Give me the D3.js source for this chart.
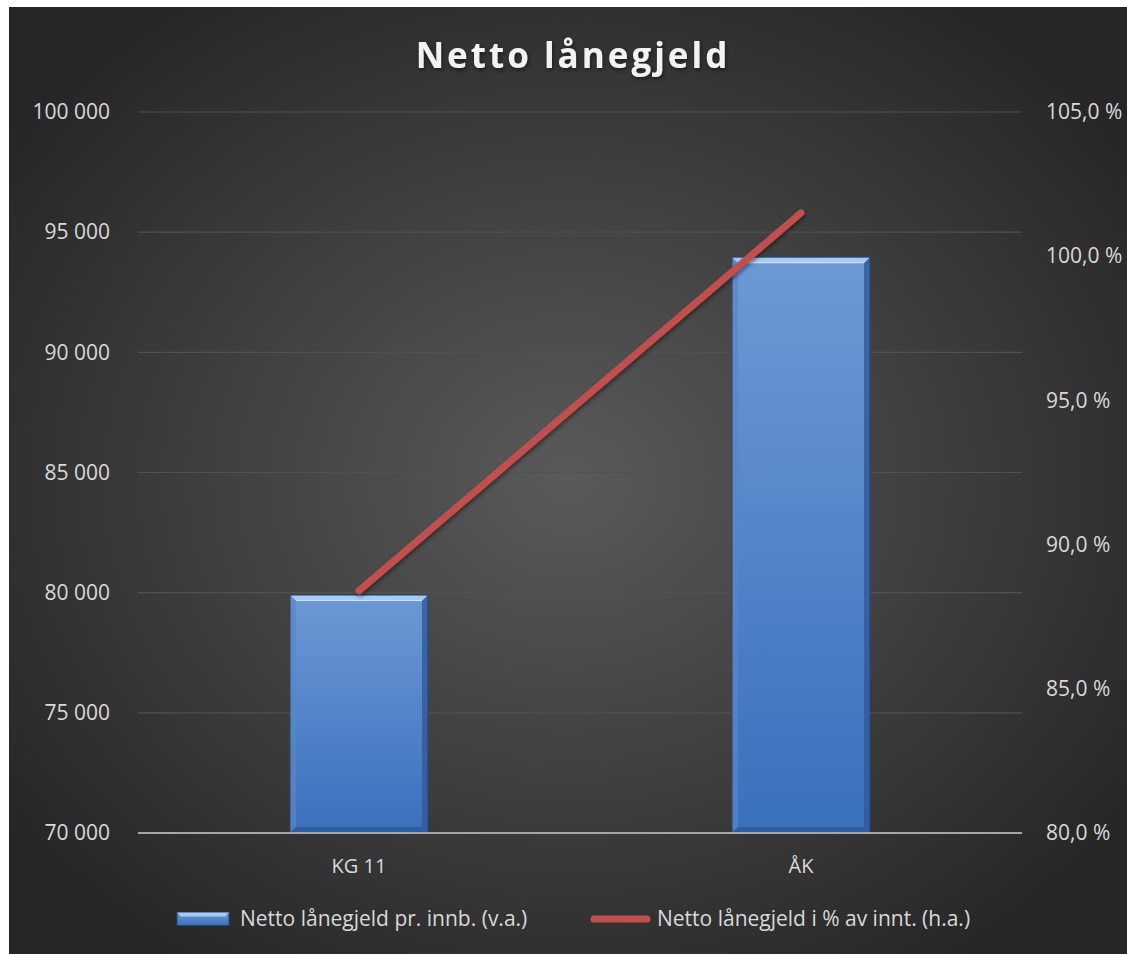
<!DOCTYPE html>
<html>
<head>
<meta charset="utf-8">
<script src="https://cdn.jsdelivr.net/npm/d3@7"></script>
<style>
  html, body { margin: 0; padding: 0; background: #fff; }
  svg { display: block; }
  text { font-family: "Open Sans", "Noto Sans", sans-serif; }
</style>
</head>
<body>
<svg class="chart"></svg>
<script>
// data
const categories = ['KG 11', 'ÅK'];
const perInhabitant = [79900, 93960];      // bars, left axis
const percentOfIncome = [88.4, 101.5];     // line, right axis
const leftTicks = [70000, 75000, 80000, 85000, 90000, 95000, 100000];
const rightTicks = [80, 85, 90, 95, 100, 105];
const seriesNames = ['Netto lånegjeld pr. innb. (v.a.)', 'Netto lånegjeld i % av innt. (h.a.)'];

const W = 1127, H = 954;
const box = {x: 9, y: 7, w: W - 9, h: H - 7};
const margin = {top: 112, right: 105, bottom: 121, left: 138};
const plotW = W - margin.left - margin.right;
const plotH = H - margin.top - margin.bottom;

const svg = d3.select('.chart').attr('width', W).attr('height', H);
const defs = svg.append('defs');

const bg = defs.append('radialGradient').attr('id', 'bg')
  .attr('cx', '50%').attr('cy', '50%').attr('r', '62%');
bg.append('stop').attr('offset', '0%').attr('stop-color', '#5a5a5a');
bg.append('stop').attr('offset', '100%').attr('stop-color', '#262626');

const barGrad = defs.append('linearGradient').attr('id', 'barGrad')
  .attr('x1', 0).attr('y1', 0).attr('x2', 0).attr('y2', 1);
barGrad.append('stop').attr('offset', '0%').attr('stop-color', '#6d98d5');
barGrad.append('stop').attr('offset', '100%').attr('stop-color', '#3b70bd');

const shadow = defs.append('filter').attr('id', 'shadow')
  .attr('x', '-20%').attr('y', '-20%').attr('width', '140%').attr('height', '140%');
shadow.append('feDropShadow').attr('dx', 1).attr('dy', 2).attr('stdDeviation', 2)
  .attr('flood-color', '#000').attr('flood-opacity', 0.5);

svg.append('rect')
  .attr('x', box.x).attr('y', box.y).attr('width', box.w).attr('height', box.h)
  .attr('fill', 'url(#bg)');

svg.append('text')
  .attr('x', 573).attr('y', 68)
  .attr('text-anchor', 'middle')
  .attr('fill', '#f2f2f2')
  .attr('font-size', 35).attr('font-weight', 700)
  .attr('letter-spacing', 3)
  .attr('filter', 'url(#shadow)')
  .text('Netto lånegjeld');

const g = svg.append('g').attr('transform', 'translate(' + margin.left + ',' + margin.top + ')');

const x = d3.scaleBand().domain(categories).range([0, plotW]);
const yL = d3.scaleLinear().domain([70000, 100000]).range([plotH, 0]);
const yR = d3.scaleLinear().domain([80, 105]).range([plotH, 0]);

const fmtNum = d => d3.format(',')(d).replace(/,/g, ' ');
const fmtPct = d => d3.format('.1f')(d).replace('.', ',') + ' %';

// gridlines
g.append('g').selectAll('line').data(leftTicks.slice(1)).join('line')
  .attr('x1', 0).attr('x2', plotW)
  .attr('y1', d => yL(d)).attr('y2', d => yL(d))
  .attr('stroke', '#515151').attr('stroke-width', 1.2);

// left axis
const axL = g.append('g').call(d3.axisLeft(yL).tickValues(leftTicks).tickFormat(fmtNum).tickSize(0).tickPadding(28));
axL.select('.domain').remove();
axL.selectAll('text').attr('fill', '#d9d9d9').attr('font-size', 21)
  .style('font-family', '"Open Sans", sans-serif');

// right axis
const axR = g.append('g').attr('transform', 'translate(' + plotW + ',0)')
  .call(d3.axisRight(yR).tickValues(rightTicks).tickFormat(fmtPct).tickSize(0).tickPadding(24));
axR.select('.domain').remove();
axR.selectAll('text').attr('fill', '#d9d9d9').attr('font-size', 21)
  .style('font-family', '"Open Sans", sans-serif');

// bars with bevel
const bw = 138, bev = 6;
const bars = g.append('g').selectAll('g').data(categories).join('g')
  .attr('transform', d => 'translate(' + (x(d) + x.bandwidth() / 2 - bw / 2) + ',0)');
bars.each(function (d, i) {
  const b = d3.select(this);
  const top = yL(perInhabitant[i]);
  const h = plotH - top;
  b.append('rect').attr('x', 0).attr('y', top).attr('width', bw).attr('height', h)
    .attr('fill', 'url(#barGrad)');
  // top bevel
  b.append('path')
    .attr('d', `M0,${top}L${bw},${top}L${bw - bev},${top + bev}L${bev},${top + bev}Z`)
    .attr('fill', '#a8cbf3');
  b.append('line').attr('x1', bev).attr('x2', bw - bev)
    .attr('y1', top + bev - 0.5).attr('y2', top + bev - 0.5)
    .attr('stroke', '#cfe4fb').attr('stroke-width', 1);
  // left bevel
  b.append('path')
    .attr('d', `M0,${top}L${bev},${top + bev}L${bev},${plotH - bev}L0,${plotH}Z`)
    .attr('fill', '#5a86c4').attr('opacity', 0.7);
  // right bevel
  b.append('path')
    .attr('d', `M${bw},${top}L${bw - bev},${top + bev}L${bw - bev},${plotH - bev}L${bw},${plotH}Z`)
    .attr('fill', '#2f5a96').attr('opacity', 0.8);
  // bottom bevel
  b.append('path')
    .attr('d', `M0,${plotH}L${bev},${plotH - bev}L${bw - bev},${plotH - bev}L${bw},${plotH}Z`)
    .attr('fill', '#2f5e9f');
  b.append('rect').attr('x', 0).attr('y', top).attr('width', bw).attr('height', h)
    .attr('fill', 'none').attr('stroke', '#26466f').attr('stroke-width', 1);
});

// baseline
g.append('line').attr('x1', 0).attr('x2', plotW).attr('y1', plotH).attr('y2', plotH)
  .attr('stroke', '#a6a6a6').attr('stroke-width', 1.8);

// category labels
g.append('g').selectAll('text').data(categories).join('text')
  .attr('x', d => x(d) + x.bandwidth() / 2).attr('y', plotH + 40)
  .attr('text-anchor', 'middle').attr('fill', '#d9d9d9').attr('font-size', 20)
  .text(d => d);

// line
const line = d3.line()
  .x((d, i) => x(categories[i]) + x.bandwidth() / 2)
  .y(d => yR(d));
g.append('path').datum(percentOfIncome)
  .attr('d', line)
  .attr('fill', 'none').attr('stroke', '#c0504d').attr('stroke-width', 7)
  .attr('stroke-linecap', 'round').attr('stroke-linejoin', 'round')
  .attr('filter', 'url(#shadow)');

// legend
const leg = svg.append('g').attr('transform', 'translate(0,919)');
const sw = {x: 177, w: 52, h: 13};
leg.append('rect').attr('x', sw.x).attr('y', -sw.h / 2).attr('width', sw.w).attr('height', sw.h)
  .attr('fill', 'url(#barGrad)').attr('stroke', '#26466f').attr('stroke-width', 1);
leg.append('path')
  .attr('d', `M${sw.x},${-sw.h / 2}L${sw.x + sw.w},${-sw.h / 2}L${sw.x + sw.w - 4},${-sw.h / 2 + 4}L${sw.x + 4},${-sw.h / 2 + 4}Z`)
  .attr('fill', '#a8cbf3');
leg.append('text').attr('x', 240).attr('y', 7).attr('fill', '#d9d9d9').attr('font-size', 21)
  .text(seriesNames[0]);
leg.append('line').attr('x1', 594).attr('x2', 647).attr('y1', 0).attr('y2', 0)
  .attr('stroke', '#c0504d').attr('stroke-width', 7).attr('stroke-linecap', 'round');
leg.append('text').attr('x', 657).attr('y', 7).attr('fill', '#d9d9d9').attr('font-size', 21)
  .text(seriesNames[1]);
</script>
</body>
</html>
